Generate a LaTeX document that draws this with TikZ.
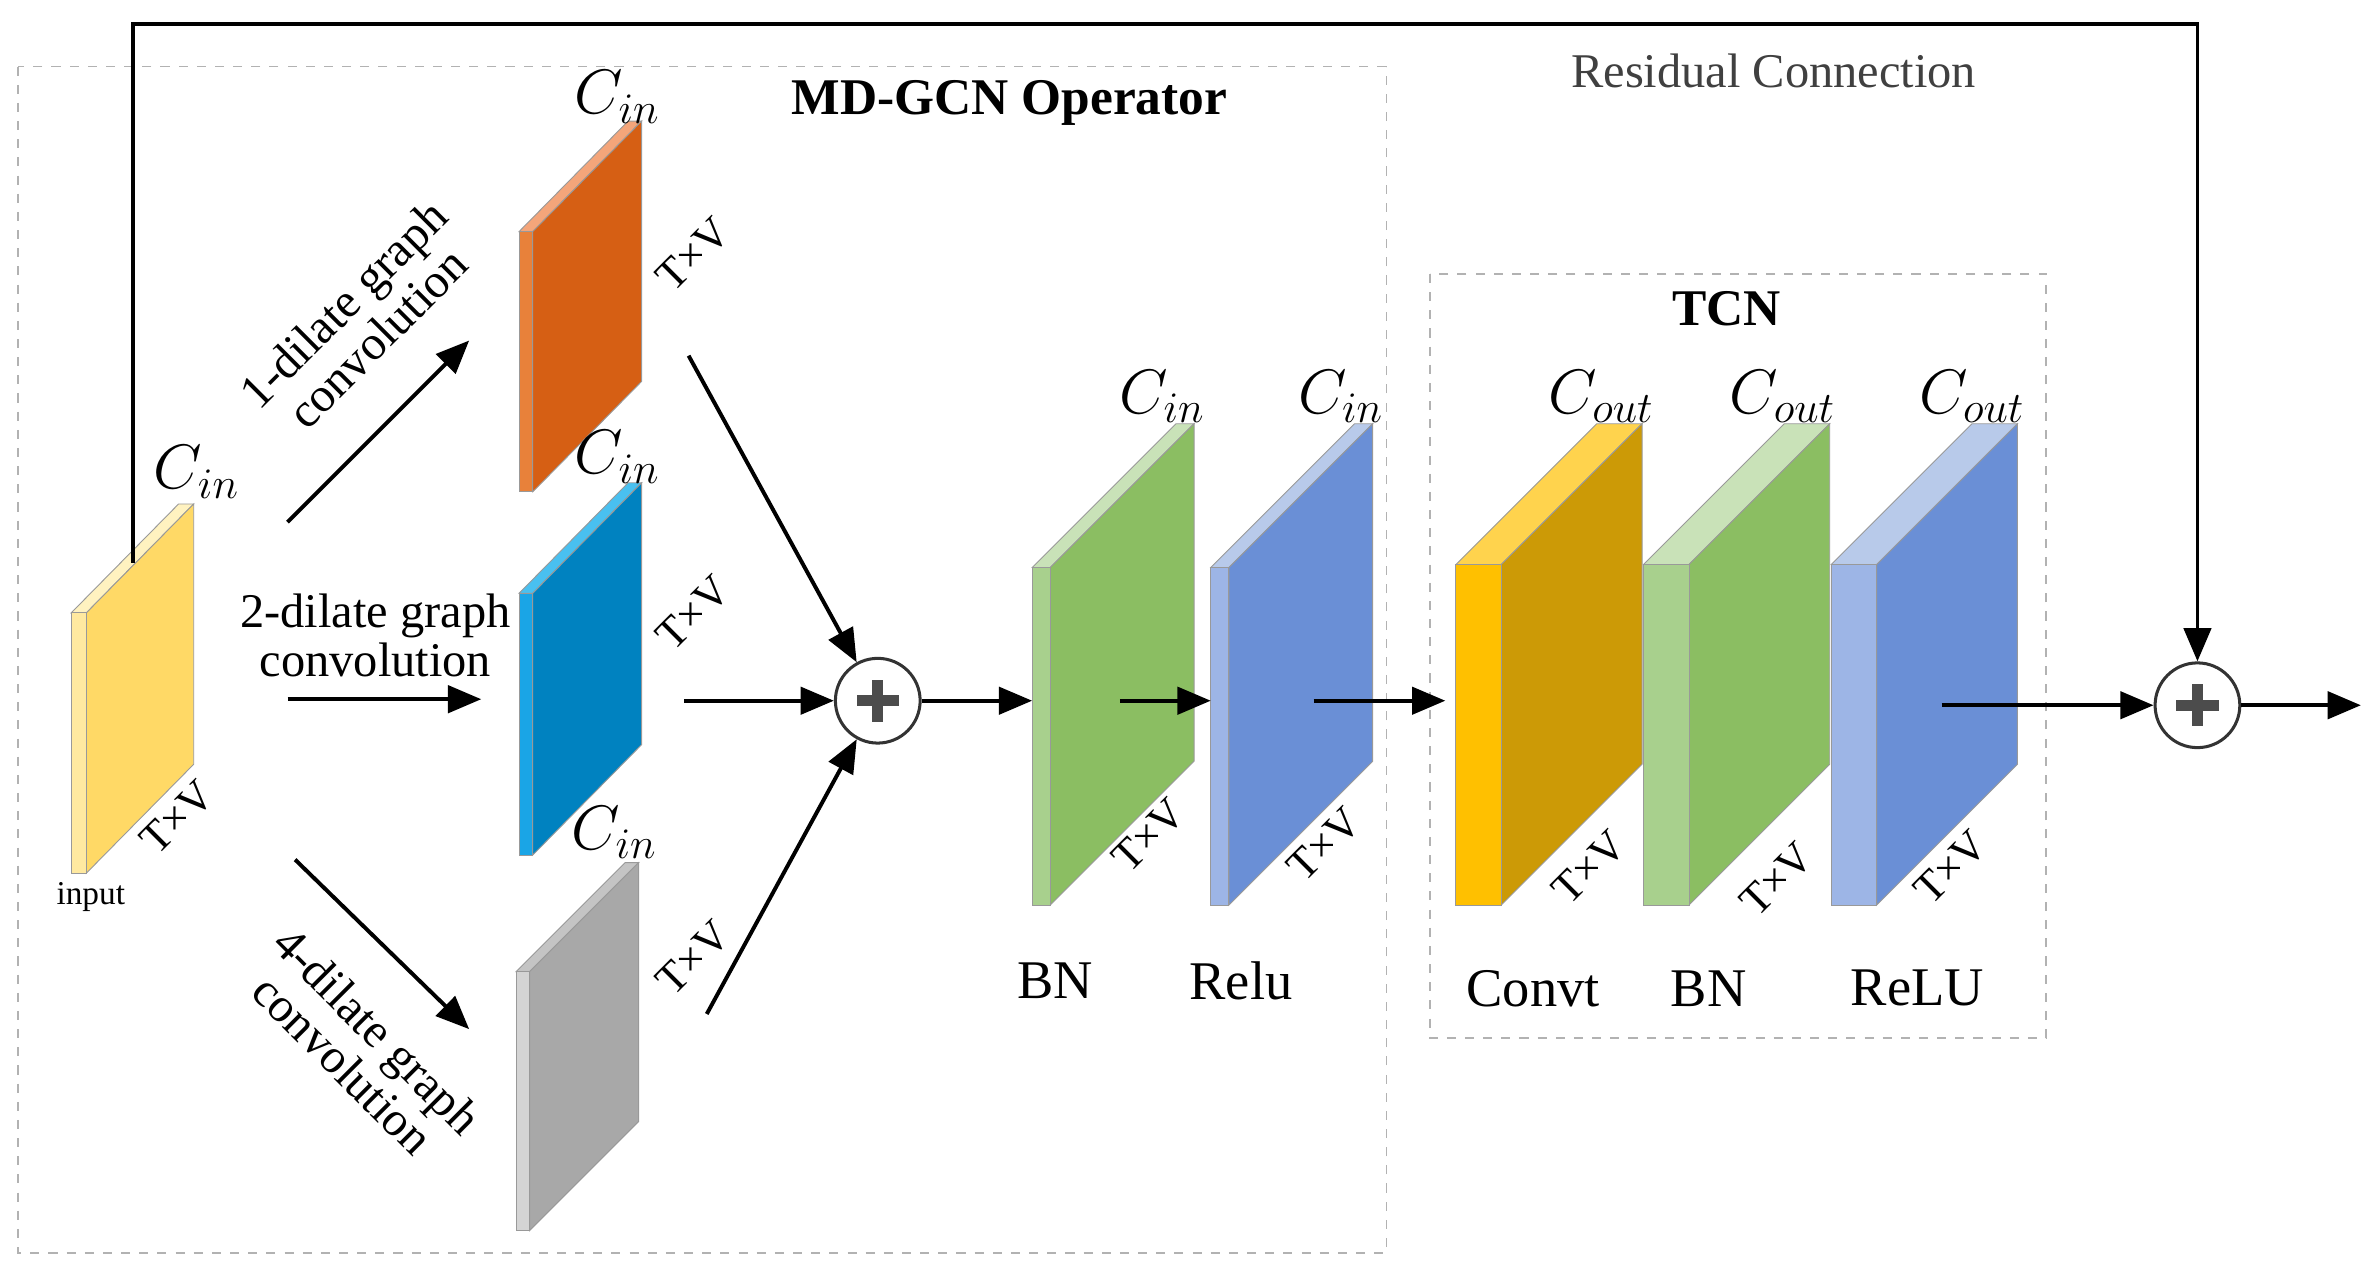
\documentclass[tikz,border=0pt]{standalone}
\usepackage{fontspec}
\setmainfont{Liberation Serif}
\usetikzlibrary{arrows.meta}
\begin{document}
\begin{tikzpicture}[x=0.5pt,y=-0.5pt,
  arr/.style={line width=1.3pt,-{Triangle[length=11pt,width=9pt]}},
  box/.style={draw=gray!60,dashed,line width=0.5pt},
  cl/.style={font=\fontsize{22}{24}\selectfont},
  tv/.style={font=\fontsize{14.5}{15}\selectfont,rotate=45},
  lab/.style={font=\fontsize{18}{20}\selectfont},
  dl/.style={font=\fontsize{16}{16}\selectfont,align=center,inner sep=1pt}]
\useasboundingbox (0,0) rectangle (1568,842);
\newcommand{\myslab}[9]{%
  \fill[#9,draw=black!40,line width=0.3pt] (#1,#3) -- ({#1+#2},#3) -- ({#1+#2+#5},{#3-#6}) -- ({#1+#5},{#3-#6}) -- cycle;
  \fill[#8,draw=black!40,line width=0.3pt] ({#1+#2},#3) -- ({#1+#2},#4) -- ({#1+#2+#5},{#4-#6}) -- ({#1+#2+#5},{#3-#6}) -- cycle;
  \fill[#7,draw=black!40,line width=0.3pt] (#1,#3) rectangle ({#1+#2},#4);}
\definecolor{yf}{HTML}{FFE9A0}\definecolor{ys}{HTML}{FFD966}\definecolor{yt}{HTML}{FFF2C0}
\definecolor{of}{HTML}{E8813A}\definecolor{os}{HTML}{D65F14}\definecolor{ot}{HTML}{F4A57A}
\definecolor{bf}{HTML}{1AA5E6}\definecolor{bs}{HTML}{0082C0}\definecolor{bt}{HTML}{49C0F0}
\definecolor{gf}{HTML}{D4D4D4}\definecolor{gs}{HTML}{A8A8A8}\definecolor{gt}{HTML}{C4C4C4}
\definecolor{nf}{HTML}{A8D08D}\definecolor{ns}{HTML}{8BBE62}\definecolor{nt}{HTML}{C9E2B8}
\definecolor{rf}{HTML}{9DB5E6}\definecolor{rs}{HTML}{6A8FD6}\definecolor{rt}{HTML}{B8CAEA}
\definecolor{cf}{HTML}{FFC000}\definecolor{cs}{HTML}{CC9A06}\definecolor{ct}{HTML}{FFD34D}
\draw[box] (12,44) rectangle (916,828);
\draw[box] (945,181) rectangle (1352,686);
\node[font=\bfseries\fontsize{17}{18}\selectfont] (mdt) at (667,68) {MD-GCN Operator};
\node[font=\bfseries\fontsize{17}{18}\selectfont] (tcnt) at (1141,204) {TCN};
\node[font=\fontsize{16}{17}\selectfont,text=black!75] (rest) at (1172,47) {Residual Connection};
\myslab{47}{10}{405}{577}{71}{72}{yf}{ys}{yt}
\myslab{343}{9}{153}{325}{72}{73}{of}{os}{ot}
\myslab{343}{9}{392}{565}{72}{73}{bf}{bs}{bt}
\myslab{341}{9}{642}{813}{72}{72}{gf}{gs}{gt}
\myslab{682}{12}{375}{598}{95}{95}{nf}{ns}{nt}
\myslab{800}{12}{375}{598}{95}{95}{rf}{rs}{rt}
\myslab{962}{30}{373}{598}{93}{93}{cf}{cs}{ct}
\myslab{1086}{30}{373}{598}{93}{93}{nf}{ns}{nt}
\myslab{1210}{30}{373}{598}{93}{93}{rf}{rs}{rt}
\node[cl] (c0) at (130,312) {$C_{in}$};
\node[cl] (c1) at (408,64) {$C_{in}$};
\node[cl] (c2) at (408,302) {$C_{in}$};
\node[cl] (c3) at (406,550) {$C_{in}$};
\node[cl] (c4) at (768,262) {$C_{in}$};
\node[cl] (c5) at (886,262) {$C_{in}$};
\node[cl] (c6) at (1058,262) {$C_{out}$};
\node[cl] (c7) at (1178,262) {$C_{out}$};
\node[cl] (c8) at (1303,262) {$C_{out}$};
\node[tv] (t0) at (117,540) {T×V};
\node[tv] (t1) at (458,168) {T×V};
\node[tv] (t2) at (458,405) {T×V};
\node[tv] (t3) at (458,633) {T×V};
\node[tv] (t4) at (759,552) {T×V};
\node[tv] (t5) at (875,558) {T×V};
\node[tv] (t6) at (1050,573) {T×V};
\node[tv] (t7) at (1174,581) {T×V};
\node[tv] (t8) at (1289,573) {T×V};
\node[font=\fontsize{11}{12}\selectfont] (inp) at (60,593) {input};
\node[dl,rotate=45] (l1) at (238,212) {1-dilate graph\\convolution};
\node[dl] (l2) at (248,420) {2-dilate graph\\convolution};
\node[dl,rotate=-45] (l4) at (238,692) {4-dilate graph\\convolution};
\node[lab] (bn1) at (697,648) {BN};
\node[lab] (relu1) at (820,648) {Relu};
\node[lab] (conv) at (1013,653) {Convt};
\node[lab] (bn2) at (1129,653) {BN};
\node[lab] (relu2) at (1267,653) {ReLU};
\node[circle,draw=black!80,line width=1pt,fill=white,minimum size=28pt,inner sep=0] (p1) at (580,463) {};
\node[circle,draw=black!80,line width=1pt,fill=white,minimum size=28pt,inner sep=0] (p2) at (1452,466) {};
\foreach \p in {p1,p2}{\fill[black!70] ([xshift=-7pt,yshift=-1.8pt]\p.center) rectangle ([xshift=7pt,yshift=1.8pt]\p.center);
 \fill[black!70] ([xshift=-1.8pt,yshift=-7pt]\p.center) rectangle ([xshift=1.8pt,yshift=7pt]\p.center);}
\coordinate (a1s) at (190,345); \coordinate (a1e) at (310,225);
\coordinate (a2s) at (190,462); \coordinate (a2e) at (318,462);
\coordinate (a3s) at (195,568); \coordinate (a3e) at (310,680);
\coordinate (b1s) at (455,235); \coordinate (b2s) at (452,463); \coordinate (b3s) at (467,670);
\coordinate (bnin) at (682,463);
\coordinate (r1s) at (740,463); \coordinate (r1e) at (800,463);
\coordinate (cs1) at (868,463); \coordinate (ce1) at (955,463);
\coordinate (os) at (1283,466); \coordinate (oe) at (1560,466);
\coordinate (res) at (88,372);
\draw[arr] (a1s) -- (a1e);
\draw[arr] (a2s) -- (a2e);
\draw[arr] (a3s) -- (a3e);
\draw[arr] (b1s) -- (p1);
\draw[arr] (b2s) -- (p1);
\draw[arr] (b3s) -- (p1);
\draw[arr] (p1) -- (bnin);
\draw[arr] (r1s) -- (r1e);
\draw[arr] (cs1) -- (ce1);
\draw[arr] (os) -- (p2);
\draw[arr] (p2) -- (oe);
\draw[arr] (res) -- (88,16) -| (p2);
\end{tikzpicture}
\end{document}
